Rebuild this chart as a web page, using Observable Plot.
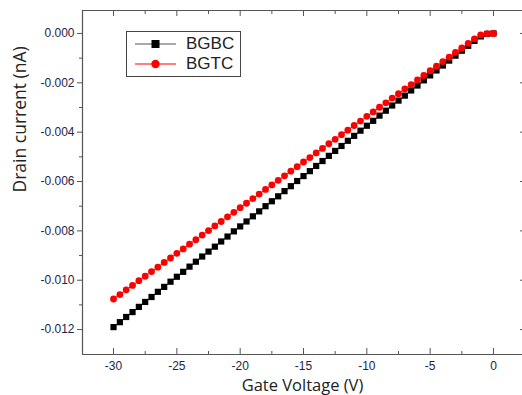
<!DOCTYPE html>
<html>
<head>
<meta charset="utf-8">
<script src="https://cdn.jsdelivr.net/npm/d3@7"></script>
<script src="https://cdn.jsdelivr.net/npm/@observablehq/plot@0.6"></script>
<style>
  body { margin: 0; background: #fff; }
  #wrap { position: relative; width: 522px; height: 395px; overflow: hidden; }
  #legend { position: absolute; left: 126px; top: 31px; width: 113px; height: 44px; border: 1px solid #444; background: #fff;
            font-family: "Liberation Sans", Arial, sans-serif; font-size: 17px; color: #222; }
  .row { position: absolute; left: 0; height: 20px; display: flex; align-items: center; }
  .row svg { margin-left: 8px; }
  .row span { margin-left: 9px; line-height: 20px; }
</style>
</head>
<body>
<div id="wrap"></div>
<script>
const voltage = [-30, -29.5, -29, -28.5, -28, -27.5, -27, -26.5, -26, -25.5,
  -25, -24.5, -24, -23.5, -23, -22.5, -22, -21.5, -21, -20.5,
  -20, -19.5, -19, -18.5, -18, -17.5, -17, -16.5, -16, -15.5,
  -15, -14.5, -14, -13.5, -13, -12.5, -12, -11.5, -11, -10.5,
  -10, -9.5, -9, -8.5, -8, -7.5, -7, -6.5, -6, -5.5,
  -5, -4.5, -4, -3.5, -3, -2.5, -2, -1.5, -1, -0.5, 0];

const bgbcCurrent = [-0.0119, -0.0117, -0.01149, -0.01129, -0.01108, -0.01088, -0.01068, -0.01047, -0.01027, -0.01006,
  -0.00986, -0.00966, -0.00945, -0.00925, -0.00904, -0.00884, -0.00864, -0.00843, -0.00823, -0.00802,
  -0.00782, -0.00762, -0.00741, -0.00721, -0.007, -0.0068, -0.0066, -0.00639, -0.00619, -0.00598,
  -0.00578, -0.00558, -0.00537, -0.00517, -0.00496, -0.00476, -0.00456, -0.00435, -0.00415, -0.00394,
  -0.00374, -0.00354, -0.00333, -0.00313, -0.00292, -0.00272, -0.00252, -0.00231, -0.00211, -0.0019,
  -0.0017, -0.0015, -0.0013, -0.0011, -0.0009, -0.0007, -0.0005, -0.0003, -0.00012, -0.00002, 0];

const bgtcCurrent = [-0.01076, -0.01058, -0.01039, -0.01021, -0.01002, -0.00984, -0.00965, -0.00947, -0.00928, -0.0091,
  -0.00891, -0.00873, -0.00854, -0.00836, -0.00817, -0.00799, -0.0078, -0.00762, -0.00743, -0.00725,
  -0.00706, -0.00688, -0.00669, -0.00651, -0.00632, -0.00614, -0.00595, -0.00577, -0.00558, -0.0054,
  -0.00521, -0.00503, -0.00484, -0.00466, -0.00447, -0.00429, -0.0041, -0.00392, -0.00373, -0.00355,
  -0.00336, -0.00318, -0.00299, -0.00281, -0.00262, -0.00244, -0.00225, -0.00207, -0.00188, -0.0017,
  -0.00151, -0.00133, -0.00114, -0.00096, -0.00077, -0.00059, -0.0004, -0.00022, -0.00006, -0.00001, 0];

const seriesNames = ["BGBC", "BGTC"];
const seriesColors = ["#000000", "#ff0000"];

const xMajor = [-30, -25, -20, -15, -10, -5, 0];
const xMinor = [-27.5, -22.5, -17.5, -12.5, -7.5, -2.5];
const yMajor = [0, -0.002, -0.004, -0.006, -0.008, -0.010, -0.012];
const yMinor = [-0.001, -0.003, -0.005, -0.007, -0.009, -0.011];

const xDomain = [-32.45, 2.29];
const yDomain = [-0.01301, 0.00093];

const xTitle = "Gate Voltage (V)";
const yTitle = "Drain current (nA)";

const bgbc = voltage.map((v, i) => ({v, c: bgbcCurrent[i]}));
const bgtc = voltage.map((v, i) => ({v, c: bgtcCurrent[i]}));

const axisColor = "#555";
const labelColor = "#1e2448";
const titleColor = "#222";
const tickFont = "Liberation Sans, Arial, sans-serif";
const titleFont = "Open Sans, DejaVu Sans, sans-serif";

const chart = Plot.plot({
  width: 522,
  height: 395,
  marginLeft: 82,
  marginTop: 10,
  marginRight: 0,
  marginBottom: 41,
  x: {domain: xDomain},
  y: {domain: yDomain},
  style: {background: "#fff", overflow: "visible"},
  marks: [
    // frame (left, top, bottom)
    Plot.ruleX([xDomain[0]], {stroke: axisColor, strokeWidth: 1.2}),
    Plot.ruleY([yDomain[0]], {stroke: axisColor, strokeWidth: 1.2}),
    Plot.ruleY([yDomain[1]], {stroke: axisColor, strokeWidth: 1.2}),
    // left y axis
    Plot.axisY({anchor: "left", ticks: yMajor, tickSize: 5, tickPadding: 3, tickFormat: d => d.toFixed(3),
      fontSize: 12, fontFamily: tickFont, color: labelColor, stroke: axisColor, label: null}),
    Plot.axisY({anchor: "left", ticks: yMinor, tickSize: 3, text: null, stroke: axisColor, label: null}),
    // right y ticks (inward)
    Plot.axisY({anchor: "right", ticks: yMajor, tickSize: -3, text: null, stroke: axisColor, label: null}),
    // bottom x axis (inward ticks)
    Plot.axisX({anchor: "bottom", ticks: xMajor, tickSize: -6, text: null, stroke: axisColor, label: null}),
    Plot.axisX({anchor: "bottom", ticks: xMinor, tickSize: -3, text: null, stroke: axisColor, label: null}),
    Plot.axisX({anchor: "bottom", ticks: xMajor, tickSize: 0, tickPadding: 7, tickFormat: d => String(d),
      fontSize: 12, fontFamily: tickFont, color: labelColor, label: null}),
    // top x ticks (inward)
    Plot.axisX({anchor: "top", ticks: xMajor, tickSize: -5, text: null, stroke: axisColor, label: null}),
    Plot.axisX({anchor: "top", ticks: xMinor, tickSize: -3, text: null, stroke: axisColor, label: null}),
    // axis titles
    Plot.text([xTitle], {text: d => d, frameAnchor: "bottom", dy: 31, lineAnchor: "middle",
      fontSize: 16.5, fontFamily: titleFont, fill: titleColor}),
    Plot.text([yTitle], {text: d => d, frameAnchor: "left", dx: -62, dy: 10, rotate: -90, lineAnchor: "middle",
      fontSize: 17.5, fontFamily: titleFont, fill: titleColor}),
    // series
    Plot.line(bgbc, {x: "v", y: "c", stroke: seriesColors[0], strokeWidth: 1}),
    Plot.dot(bgbc, {x: "v", y: "c", symbol: "square", r: 3.5, fill: seriesColors[0], stroke: "none"}),
    Plot.line(bgtc, {x: "v", y: "c", stroke: seriesColors[1], strokeWidth: 1}),
    Plot.dot(bgtc, {x: "v", y: "c", symbol: "circle", r: 3.4, fill: seriesColors[1], stroke: "none"})
  ]
});

const wrap = document.getElementById("wrap");
wrap.appendChild(chart);

// legend
const legend = document.createElement("div");
legend.id = "legend";
seriesNames.forEach((name, i) => {
  const row = document.createElement("div");
  row.className = "row";
  row.style.top = (i === 0 ? 2 : 22) + "px";
  const sym = i === 0
    ? `<rect x="16.5" y="4" width="8" height="8" fill="${seriesColors[i]}"/>`
    : `<circle cx="20.5" cy="8" r="4.2" fill="${seriesColors[i]}"/>`;
  const lineColor = i === 0 ? "#555" : seriesColors[i];
  row.innerHTML = `<svg width="42" height="16"><line x1="0" x2="41" y1="8" y2="8" stroke="${lineColor}" stroke-width="1.2"/>${sym}</svg><span>${name}</span>`;
  legend.appendChild(row);
});
wrap.appendChild(legend);
</script>
</body>
</html>
